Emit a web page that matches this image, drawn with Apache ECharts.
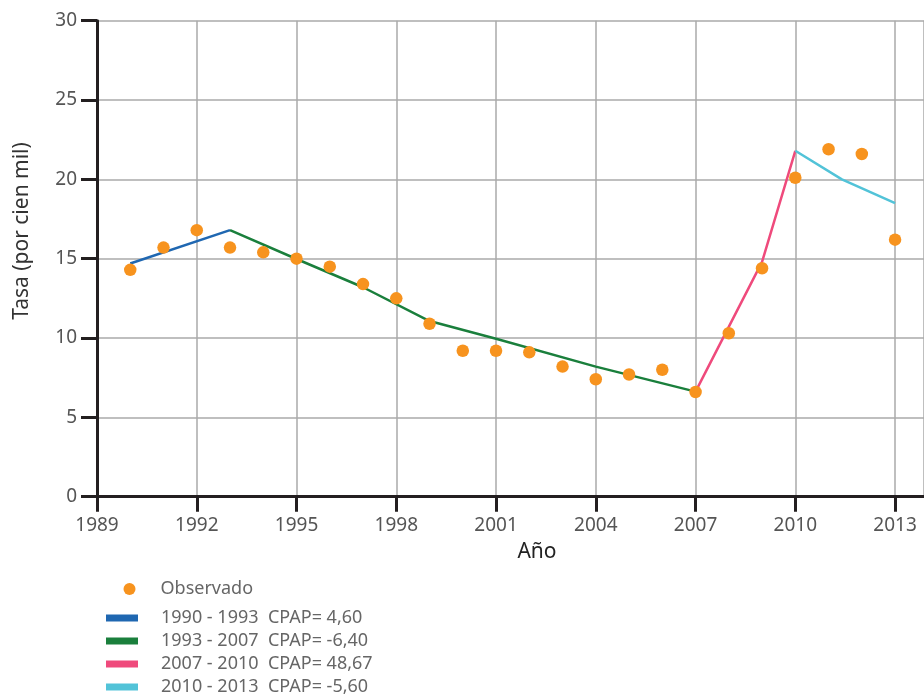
<!DOCTYPE html>
<html>
<head>
<meta charset="utf-8">
<script src="https://cdn.jsdelivr.net/npm/echarts@6/dist/echarts.min.js"></script>
<style>html,body{margin:0;padding:0;background:#fff}#c{width:924px;height:694px}</style>
</head>
<body>
<div id="c"></div>
<script>
// ---- data ----
const years = [1990,1991,1992,1993,1994,1995,1996,1997,1998,1999,2000,2001,2002,2003,2004,2005,2006,2007,2008,2009,2010,2011,2012,2013];
const observed = [14.3,15.7,16.8,15.7,15.4,15.0,14.5,13.4,12.5,10.9,9.2,9.2,9.1,8.2,7.4,7.7,8.0,6.6,10.3,14.4,20.1,21.9,21.6,16.2];

const fit1X = [1990, 1993];
const fit1Y = [14.7, 16.8];
const fit2X = [1993, 1995, 1997, 1999, 2001, 2004, 2007];
const fit2Y = [16.8, 14.98, 13.2, 11.07, 9.95, 8.2, 6.62];
const fit3X = [2007, 2009, 2010];
const fit3Y = [6.62, 14.8, 21.8];
const fit4X = [2010, 2011.4, 2013];
const fit4Y = [21.8, 20.0, 18.5];

const seriesNames = ['Observado', '1990 - 1993  CPAP= 4,60', '1993 - 2007  CPAP= -6,40', '2007 - 2010  CPAP= 48,67', '2010 - 2013  CPAP= -5,60'];
const colors = ['#f7931e', '#1f67b1', '#1a7f3c', '#ef4a7c', '#52c3d8'];
const xTicks = {min: 1989, max: 2013.87, interval: 3};
const yTicks = {min: 0, max: 30, interval: 5};

const zip = (xs, ys) => xs.map((x, i) => [x, ys[i]]);

const chart = echarts.init(document.getElementById('c'), null, {renderer: 'canvas'});
const font = "'Noto Sans', 'Open Sans', sans-serif";
const fits = [[fit1X, fit1Y], [fit2X, fit2Y], [fit3X, fit3Y], [fit4X, fit4Y]];

chart.setOption({
  animation: false,
  backgroundColor: '#fff',
  textStyle: {fontFamily: font},
  grid: {left: 97, right: 0, top: 20.7, bottom: 197.3, containLabel: false},
  xAxis: [{
    type: 'value', min: xTicks.min, max: xTicks.max, interval: xTicks.interval,
    axisLine: {show: true, onZero: false, lineStyle: {color: '#231f20', width: 3}},
    axisTick: {show: true, length: 15, lineStyle: {color: '#231f20', width: 3}},
    axisLabel: {show: true, margin: 19, fontSize: 19, color: '#555', fontFamily: font, showMaxLabel: false,
      formatter: v => ((v - xTicks.min) % xTicks.interval === 0 ? String(v) : '')},
    splitLine: {show: true, lineStyle: {color: '#aaa', width: 1.5}}
  }, {
    type: 'value', position: 'top', min: xTicks.min, max: xTicks.max, interval: xTicks.interval,
    axisLine: {show: true, lineStyle: {color: '#231f20', width: 3}},
    axisTick: {show: false}, axisLabel: {show: false}, splitLine: {show: false}
  }],
  yAxis: {
    type: 'value', min: yTicks.min, max: yTicks.max, interval: yTicks.interval,
    axisLine: {show: true, onZero: false, lineStyle: {color: '#231f20', width: 3}},
    axisTick: {show: true, length: 16, lineStyle: {color: '#231f20', width: 3}},
    axisLabel: {show: true, margin: 20, fontSize: 19, color: '#555', fontFamily: font},
    splitLine: {show: true, lineStyle: {color: '#aaa', width: 1.5}}
  },
  legend: [{
    data: [seriesNames[0]], left: 123.5, top: 580, padding: 0,
    itemWidth: 12, itemHeight: 12, icon: 'circle',
    textStyle: {fontSize: 18, color: '#666', fontFamily: font, padding: [0, 0, 0, 20]}
  }, {
    data: seriesNames.slice(1), orient: 'vertical', left: 106, top: 609, height: 100, padding: 0,
    itemWidth: 32, itemHeight: 7, itemGap: 5, icon: 'rect',
    textStyle: {fontSize: 18, lineHeight: 18, color: '#666', fontFamily: font, padding: [0, 0, 0, 18]}
  }],
  graphic: [{
    type: 'text', x: 22, y: 231, rotation: Math.PI / 2,
    style: {text: 'Tasa (por cien mil)', fontSize: 21, fill: '#333', fontFamily: font, align: 'center', verticalAlign: 'middle'}
  }, {
    type: 'text', x: 537, y: 552,
    style: {text: 'Año', fontSize: 21, fill: '#222', fontFamily: font, align: 'center', verticalAlign: 'middle'}
  }],
  series: [{
    name: seriesNames[0], type: 'scatter', symbol: 'circle', symbolSize: 12.5, z: 5,
    itemStyle: {color: colors[0], opacity: 1},
    data: zip(years, observed)
  }].concat(fits.map((f, i) => ({
    name: seriesNames[i + 1], type: 'line', symbol: 'none', z: 3,
    color: colors[i + 1],
    lineStyle: {color: colors[i + 1], width: 2.5},
    itemStyle: {color: colors[i + 1]},
    data: zip(f[0], f[1])
  })))
});
</script>
</body>
</html>
